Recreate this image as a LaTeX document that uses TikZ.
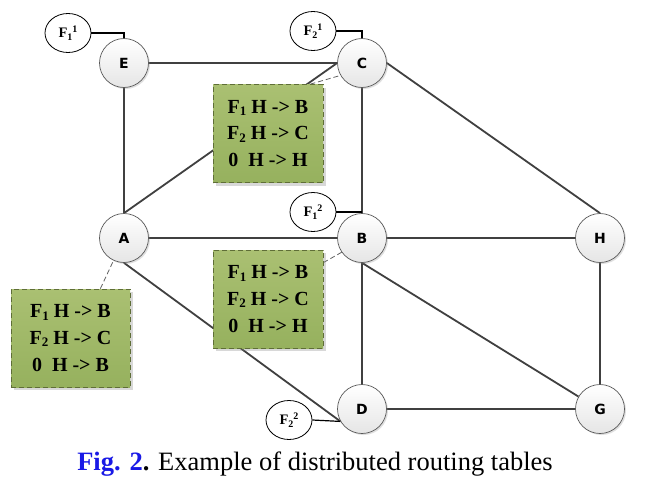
\documentclass[tikz,border=0pt]{standalone}
\usepackage{fontspec}
\setmainfont{Liberation Serif}
\newfontfamily\lblfont{DejaVu Sans}
\usetikzlibrary{calc,shadows,shapes.geometric}
\definecolor{edgec}{HTML}{404040}
\definecolor{boxtop}{RGB}{170,192,114}
\definecolor{boxbot}{RGB}{150,177,94}
\definecolor{boxline}{RGB}{95,110,55}
\definecolor{figblue}{RGB}{25,25,230}
\newcommand{\Flab}[2]{F\raisebox{-3pt}{\fontsize{10}{10}\selectfont #1}\raisebox{5pt}{\fontsize{10}{10}\selectfont #2}}
\newcommand{\Fs}[1]{F\raisebox{-2.5pt}{\fontsize{13}{13}\selectfont #1}}
\pgfdeclarelayer{bgl}
\pgfsetlayers{bgl,main}
\tikzset{
  rnode/.style={circle, minimum size=49pt, inner sep=0pt, draw=gray!70!black, line width=0.7pt,
    top color=white, bottom color=gray!20,
    drop shadow={shadow xshift=1.5pt, shadow yshift=-1.5pt, opacity=0.25},
    font=\lblfont\bfseries\fontsize{14}{14}\selectfont},
  fnode/.style={ellipse, minimum width=46pt, minimum height=39pt, inner sep=0pt, draw=black,
    line width=0.8pt, fill=white, font=\bfseries\fontsize{14.5}{14.5}\selectfont},
  tbox/.style={rectangle, minimum width=110pt, minimum height=98pt, inner sep=0pt,
    draw=boxline, dash pattern=on 5pt off 3pt, line width=0.8pt,
    top color=boxtop, bottom color=boxbot,
    drop shadow={shadow xshift=3pt, shadow yshift=-3pt, opacity=0.3},
    align=center, font=\bfseries\fontsize{20}{26.7}\selectfont},
  edgeln/.style={draw=edgec, line width=1.8pt},
  dashln/.style={draw=gray!75!black, dash pattern=on 5pt off 3pt, line width=0.8pt},
  fln/.style={draw=black, line width=1.2pt}
}
\begin{document}
\begin{tikzpicture}[x=1pt,y=-1pt]
\useasboundingbox (0,0) rectangle (645,482);
\begin{pgfonlayer}{bgl}
\fill[white] (0,0) rectangle (645,482);
\end{pgfonlayer}
% routers
\node[rnode] (E) at (124,63) {E};
\node[rnode] (C) at (362,63) {C};
\node[rnode] (A) at (124,238) {A};
\node[rnode] (B) at (362,238) {B};
\node[rnode] (H) at (600,238) {H};
\node[rnode] (D) at (362,409) {D};
\node[rnode] (G) at (600,409) {G};
% F labels
\node[fnode] (F11) at (68,33) {\Flab{1}{1}};
\node[fnode] (F21) at (313,31) {\Flab{2}{1}};
\node[fnode] (F12) at (313,212) {\Flab{1}{2}};
\node[fnode] (F22) at (289,420) {\Flab{2}{2}};
% tables
\node[tbox] (T1) at (268,133.5) {\Fs{1} H -> B\\\Fs{2} H -> C\\0~~H -> H};
\node[tbox] (T2) at (268,299) {\Fs{1} H -> B\\\Fs{2} H -> C\\0~~H -> H};
\node[tbox, minimum width=119pt] (T3) at (70.5,338) {\Fs{1} H -> B\\\Fs{2} H -> C\\0~~H -> B};
% caption
\node[anchor=base, inner sep=0pt, font=\fontsize{26.5}{26.5}\selectfont] (cap) at (315,470)
  {{\bfseries\color{figblue}Fig. 2}{\bfseries .} Example of distributed routing tables};
\begin{pgfonlayer}{bgl}
\draw[edgeln] (E.east) -- (C.west);
\draw[edgeln] (E.south) -- (A.north);
\draw[edgeln] (A.north) -- (C.west);
\draw[edgeln] (A.east) -- (B.west);
\draw[edgeln] (A.south) -- (D.210);
\draw[edgeln] (C.south) -- (B.north);
\draw[edgeln] (C.east) -- (H.north);
\draw[edgeln] (B.east) -- (H.west);
\draw[edgeln] (B.south) -- (D.north);
\draw[edgeln] (B.south) -- (G.150);
\draw[edgeln] (D.east) -- (G.west);
\draw[edgeln] (H.south) -- (G.north);
\draw[fln] (F11.east) -| (E.north);
\draw[fln] (F21.east) -| (C.north);
\draw[fln] (F12.east) -- (F12.east -| B.north);
\draw[fln] (F22.east) -- (D.210);
\draw[dashln] ($(T1.north east)+(-13,0)$) -- (C.210);
\draw[dashln] ($(T2.north east)+(0,13)$) -- (B.215);
\draw[dashln] ($(T3.north east)+(-30,0)$) -- (A.245);
\end{pgfonlayer}
\end{tikzpicture}
\end{document}
